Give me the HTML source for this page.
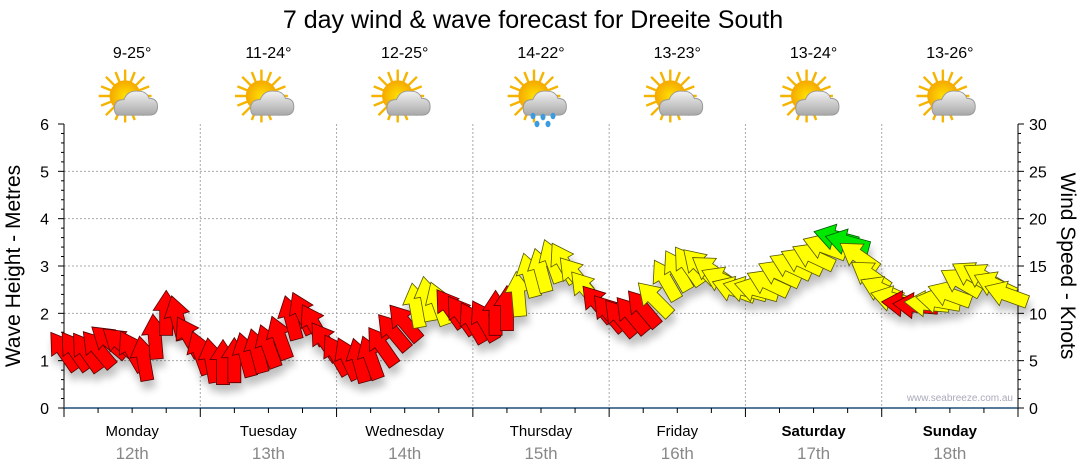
<!DOCTYPE html>
<html><head><meta charset="utf-8">
<style>
body{margin:0;background:#fff;font-family:"Liberation Sans","DejaVu Sans",sans-serif;}
svg{display:block}
</style></head>
<body>
<svg id="chart" width="1080" height="475" viewBox="0 0 1080 475" xmlns="http://www.w3.org/2000/svg">
<defs>
  <filter id="shadow" x="-50%" y="-50%" width="200%" height="200%">
    <feGaussianBlur in="SourceAlpha" stdDeviation="4"/>
    <feOffset dx="2" dy="8"/>
    <feComponentTransfer><feFuncA type="linear" slope="0.25"/></feComponentTransfer>
    <feMerge><feMergeNode/><feMergeNode in="SourceGraphic"/></feMerge>
  </filter>
  <radialGradient id="sunG" cx="0.5" cy="0.5" r="0.5">
    <stop offset="0" stop-color="#ffe000"/><stop offset="1" stop-color="#f5a800"/>
  </radialGradient>
  <linearGradient id="cloudG" x1="0" y1="0" x2="0" y2="1">
    <stop offset="0" stop-color="#f2f2f2"/><stop offset="1" stop-color="#a8a8a8"/>
  </linearGradient>
  <g id="wicon">
    <g stroke="#f5b400" stroke-width="2">
      <line x1="-22" y1="0" x2="22" y2="0"/><line x1="0" y1="-22" x2="0" y2="22"/>
      <line x1="-16" y1="-16" x2="16" y2="16"/><line x1="-16" y1="16" x2="16" y2="-16"/>
      <line x1="-20" y1="-8" x2="20" y2="8"/><line x1="-8" y1="-20" x2="8" y2="20"/>
      <line x1="-20" y1="8" x2="20" y2="-8"/><line x1="8" y1="-20" x2="-8" y2="20"/>
    </g>
    <circle cx="0" cy="0" r="13" fill="url(#sunG)"/>
    <path d="M-5,16 Q-9,16 -9,10 Q-9,3 -1,3 Q2,-5 11,-4 Q18,-4 20,2 Q27,2 27,9 Q27,16 20,16 Z" fill="url(#cloudG)" stroke="#999" stroke-width="0.8"/>
  </g>
</defs>

<text x="533" y="28" font-size="25" text-anchor="middle" fill="#000">7 day wind &amp; wave forecast for Dreeite South</text>

<g id="header"></g>
<g id="grid"></g>
<g id="axes"></g>
<g id="arrows" filter="url(#shadow)"></g>

<text x="1013" y="401" font-size="10" text-anchor="end" fill="#aab">www.seabreeze.com.au</text>
<text transform="translate(20,266) rotate(-90)" font-size="21" text-anchor="middle" fill="#000">Wave Height - Metres</text>
<text transform="translate(1061,266) rotate(90)" font-size="21" text-anchor="middle" fill="#000">Wind Speed - Knots</text>
</svg>
<script>
const days=["Monday","Tuesday","Wednesday","Thursday","Friday","Saturday","Sunday"];
const dates=["12th","13th","14th","15th","16th","17th","18th"];
const temps=["9-25°","11-24°","12-25°","14-22°","13-23°","13-24°","13-26°"];
const rainy=[false,false,false,true,false,false,false];
const boldDay=[false,false,false,false,false,true,true];
const waveTicks=[0,1,2,3,4,5,6];
const windTicks=[0,5,10,15,20,25,30];
// wind every 2 hours from Monday 00:00
const windKnots=[6.0,6.0,5.9,6.2,7.0,6.8,6.0,5.2,7.5,10.0,9.5,7.5,
5.8,5.0,4.8,5.0,5.6,6.0,6.5,7.4,9.5,10.0,8.8,7.0,
5.6,5.2,5.0,5.3,6.5,8.0,9.0,10.8,11.5,11.0,10.5,9.8,
9.0,9.2,10.0,10.5,12.0,14.0,14.5,15.5,15.3,14.0,12.5,11.0,
10.0,9.5,9.8,10.5,11.5,13.5,14.5,15.0,15.0,14.5,13.5,12.5,
12.5,12.5,13.2,14.2,15.0,15.5,16.0,17.0,18.0,17.5,16.0,14.0,
12.5,11.5,11.0,10.8,11.0,11.3,12.0,13.3,14.0,13.8,13.0,12.0];
const windRot=[-35,-35,-35,-40,-50,-50,-30,-10,-5,0,-15,-30,
-20,-10,0,0,-15,-15,-20,-20,-15,-25,-30,-35,
-30,-25,-15,-20,-35,-40,-40,-10,-10,-20,-35,-35,
-30,-30,0,0,-5,-15,-15,-20,-30,-40,-40,-40,
-40,-40,-40,-40,-45,-30,-30,-35,-45,-55,-65,-70,
-75,-75,-65,-65,-65,-65,-65,-70,-75,-75,-55,-55,
-65,-75,-85,-85,-85,-80,-70,-60,-60,-60,-65,-70];
const windCat="rrrrrrrrrrrr"+"rrrrrrrrrrrr"+"rrrrrrryyyrr"+"rrrryyyyyyyr"+"rrrryyyyyyyy"+"yyyyyyyyggyy"+"yyrryyyyyyyy";

const NS="http://www.w3.org/2000/svg";
const X0=64,X1=1018,Y0=408,Y1=124;
const xH=h=>X0+h*(X1-X0)/168;
const yM=m=>Y0-m*(Y0-Y1)/6;
const yK=k=>Y0-k*(Y0-Y1)/30;
function mk(tag,attrs,parent,txt){const e=document.createElementNS(NS,tag);for(const k in attrs)e.setAttribute(k,attrs[k]);if(txt!==undefined)e.textContent=txt;parent.appendChild(e);return e;}
const hdr=document.getElementById('header'),grid=document.getElementById('grid'),axes=document.getElementById('axes'),arr=document.getElementById('arrows');

days.forEach((d,i)=>{
  const cx=xH(i*24+12);
  let t=mk('text',{x:cx,y:58,'font-size':16,'text-anchor':'middle',fill:'#000'},hdr,temps[i]);
  
  
  let ic=mk('use',{href:'#wicon',transform:`translate(${cx-7},${96}) scale(1.2)`},hdr);
  
  
  if(rainy[i]){
    [[-2,20],[8,21],[18,20],[2,28],[13,28]].forEach(p=>{
      let r=mk('ellipse',{cx:cx-6+p[0],cy:96+p[1],rx:2.5,ry:3.2,fill:'#3a9be0'},hdr);
      
      
    });
  }
  let dl=mk('text',{x:cx,y:436,'font-size':15,'text-anchor':'middle',fill:'#000','font-weight':boldDay[i]?'bold':'normal'},axes,d);
  
  
  let dt=mk('text',{x:cx,y:459,'font-size':17,'text-anchor':'middle',fill:'#888'},axes,dates[i]);
  
  
});
for(let i=1;i<7;i++){
  let g=mk('line',{x1:xH(i*24),y1:Y1,x2:xH(i*24),y2:Y0,stroke:'#aaa','stroke-dasharray':'2,2'},grid);
  
  
}
waveTicks.forEach(v=>{
  if(v>0&&v<6){
    let g=mk('line',{x1:X0,y1:yM(v),x2:X1,y2:yM(v),stroke:'#aaa','stroke-dasharray':'2,2'},grid);
    
    
  }
  let t=mk('text',{x:49,y:yM(v)+6,'font-size':16,'text-anchor':'end',fill:'#000'},axes,String(v));
  
  
});
windTicks.forEach(v=>{
  let t=mk('text',{x:1029,y:yK(v)+6,'font-size':16,'text-anchor':'start',fill:'#000'},axes,String(v));
  
  
});
let la=mk('line',{x1:X0,y1:Y1,x2:X0,y2:Y0,stroke:'#000'},axes);


let ra=mk('line',{x1:X1,y1:Y1,x2:X1,y2:Y0,stroke:'#000'},axes);


let ba=mk('line',{x1:X0,y1:Y0,x2:X1,y2:Y0,stroke:'#1f4e79','stroke-width':1.5},axes);


for(let i=0;i<=30;i++){
  const v=i/5,y=yM(v),major=i%5===0;
  mk('line',{x1:X0-(major?6:3),y1:y,x2:X0,y2:y,stroke:'#000'},axes);
  mk('line',{x1:X1,y1:yK(i),x2:X1+(i%5===0?6:3),y2:yK(i),stroke:'#000'},axes);
}
for(let h=0;h<=168;h+=6){
  mk('line',{x1:xH(h),y1:Y0,x2:xH(h),y2:Y0+(h%24===0?9:5),stroke:'#000'},axes);
}
const colors={r:['#ff0000','#550000'],y:['#ffff00','#555500'],g:['#00e800','#005500']};
windKnots.forEach((k,i)=>{
  const x=xH(i*2),y=yK(k),c=colors[windCat[i]];
  const p=mk('polygon',{points:'0,-23 13,-3 6.5,-3 6.5,22 -6.5,22 -6.5,-3 -13,-3',fill:c[0],stroke:c[1],'stroke-width':0.8,transform:`translate(${x},${y}) rotate(${windRot[i]})`},arr);
  
  
});
</script>
</body></html>
